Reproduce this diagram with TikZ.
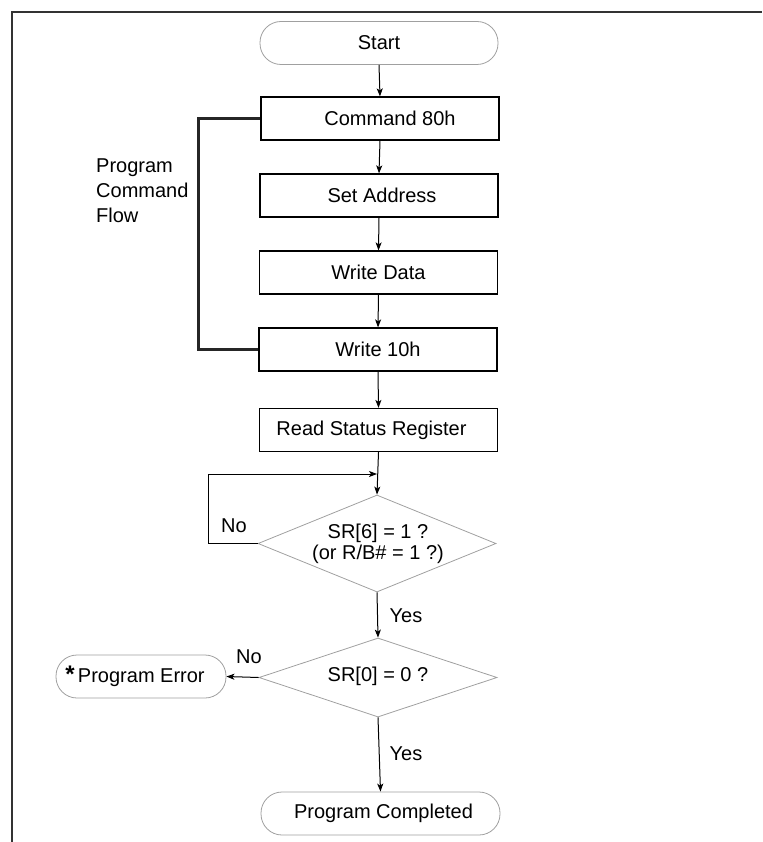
\documentclass[tikz,border=0pt]{standalone}
\usepackage{fontspec}
\setmainfont{Liberation Sans}
\usetikzlibrary{arrows.meta,shapes.geometric}
\definecolor{lgray}{RGB}{160,160,160}
\begin{document}
\begin{tikzpicture}[x=1pt,y=-1pt,
  every node/.style={font=\fontsize{20}{23}\selectfont, inner sep=0pt},
  procbox/.style={draw=black, line width=1.2pt, minimum width=238pt, minimum height=43pt},
  termbox/.style={draw=lgray, line width=0.8pt, rounded corners=21pt, minimum height=43pt},
  decbox/.style={draw=lgray, line width=0.8pt, diamond, minimum width=238pt},
  lbl/.style={draw=none},
  arr/.style={line width=1pt, -{Stealth[length=8pt,width=6pt,inset=2pt]}},
  brk/.style={line width=2.6pt, draw=black!85}
]
\useasboundingbox (0,0) rectangle (762,842);
% frame
\draw[line width=1.4pt, black!80] (12,842) -- (12,12) -- (762,12);

\node[termbox, minimum width=238pt] (start) at (379,43) {Start};
\node[procbox] (cmd) at (380,118.5) {\hspace*{20pt}Command 80h};
\node[procbox] (addr) at (379,195.5) {\hspace*{6pt}Set Address};
\node[procbox] (data) at (378.5,272.5) {Write Data};
\node[procbox] (w10) at (378,349.5) {Write 10h};
\node[procbox] (rsr) at (378.5,430) {Read Status Register\hspace*{14pt}};
\node[decbox, minimum height=97pt] (d1) at (377,543.5) {};
\node[lbl, align=center, font=\fontsize{20}{21}\selectfont] (d1t) at (378,544) {SR[6] = 1 ?\\(or R/B\# = 1 ?)};
\node[decbox, minimum height=79pt] (d2) at (378,677.5) {};
\node[lbl] (d2t) at (378,676) {SR[0] = 0 ?};
\node[termbox, minimum width=170pt] (err) at (141,676.5) {{\fontsize{24}{24}\selectfont\bfseries *}\,Program Error\hspace*{12pt}};
\node[termbox, minimum width=239pt] (done) at (380.5,813.5) {\hspace*{6pt}Program Completed};

\node[lbl, anchor=west, align=left, font=\fontsize{20}{25}\selectfont] (pcf) at (96,191) {Program\\Command\\Flow};
\node[lbl] (no1) at (234,526) {No};
\node[lbl] (yes1) at (406,616) {Yes};
\node[lbl] (no2) at (249,657) {No};
\node[lbl] (yes2) at (406,754) {Yes};

\coordinate (j) at (377,474);

\draw[arr] (start.south) -- (cmd.north);
\draw[arr] (cmd.south) -- (addr.north);
\draw[arr] (addr.south) -- (data.north);
\draw[arr] (data.south) -- (w10.north);
\draw[arr] (w10.south) -- (rsr.north);
\draw[arr] (rsr.south) -- (d1.north);
\draw[arr] (d1.west) -- ++(-49,0) |- (j);
\draw[arr] (d1.south) -- (d2.north);
\draw[arr] (d2.west) -- (err.east);
\draw[arr] (d2.south) -- (done.north);

\draw[brk] (cmd.west) -- ++(-62,0) |- (w10.west);
\end{tikzpicture}
\end{document}
